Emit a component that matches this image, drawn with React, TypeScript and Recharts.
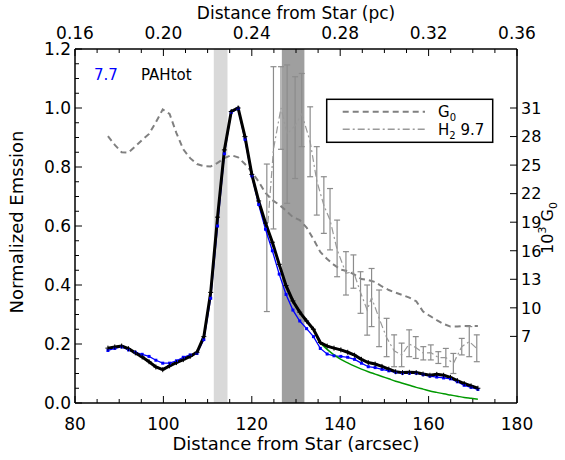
import React from 'react';
import { ComposedChart, Line, XAxis, YAxis, ReferenceArea, ErrorBar } from 'recharts';

// distance from star (arcsec), common grid of the profiles
const distance = [
  87.45, 89.0, 90.55, 92.1, 93.65, 95.2, 96.75, 98.3, 99.85, 101.4,
  102.95, 104.5, 106.05, 107.6, 109.15, 110.7, 112.25, 113.8, 115.35, 116.9,
  118.45, 120.0, 121.55, 123.1, 124.65, 126.2, 127.75, 129.3, 130.85, 132.4,
  133.95, 135.5, 137.05, 138.6, 140.15, 141.7, 143.25, 144.8, 146.35, 147.9,
  149.45, 151.0, 152.55, 154.1, 155.65, 157.2, 158.75, 160.3, 161.85, 163.4,
  164.95, 166.5, 168.05, 169.6, 171.15,
];

const pahTot = [
  0.186, 0.19, 0.193, 0.184, 0.17, 0.156, 0.14, 0.122, 0.113, 0.126,
  0.137, 0.147, 0.158, 0.172, 0.225, 0.375, 0.63, 0.858, 0.988, 1.0,
  0.903, 0.775, 0.685, 0.61, 0.545, 0.47, 0.398, 0.346, 0.308, 0.278,
  0.25, 0.205, 0.193, 0.186, 0.18, 0.172, 0.162, 0.148, 0.137, 0.132,
  0.124, 0.115, 0.106, 0.103, 0.104, 0.103, 0.098, 0.094, 0.097, 0.094,
  0.087, 0.076, 0.066, 0.058, 0.05,
];

const pah77 = [
  0.178, 0.185, 0.19, 0.18, 0.172, 0.165, 0.158, 0.145, 0.135, 0.135,
  0.143, 0.155, 0.163, 0.168, 0.215, 0.355, 0.6, 0.845, 0.985, 0.998,
  0.894, 0.77, 0.673, 0.589, 0.516, 0.437, 0.368, 0.315, 0.278, 0.252,
  0.225, 0.185, 0.166, 0.16, 0.158, 0.155, 0.148, 0.135, 0.123, 0.12,
  0.114, 0.109, 0.104, 0.101, 0.101, 0.101, 0.096, 0.091, 0.088, 0.085,
  0.082, 0.072, 0.06, 0.053, 0.046,
];

// G0 normalised to its peak (right axis: 10^3 G0, 31 <-> 1.0)
const g0Norm = [
  0.905, 0.875, 0.85, 0.849, 0.87, 0.892, 0.912, 0.952, 0.995, 0.98,
  0.915, 0.86, 0.83, 0.81, 0.803, 0.802, 0.814, 0.83, 0.84, 0.833,
  0.81, 0.784, 0.75, 0.712, 0.688, 0.672, 0.652, 0.63, 0.62, 0.595,
  0.555, 0.512, 0.488, 0.468, 0.452, 0.447, 0.435, 0.42, 0.417, 0.41,
  0.395, 0.383, 0.374, 0.366, 0.357, 0.345, 0.31, 0.295, 0.281, 0.268,
  0.259, 0.259, 0.261, 0.261, 0.261,
];

// green fit beyond the ridge
const fitDistance = [
  135.5, 137.05, 138.6, 140.15, 141.7, 143.25, 144.8, 146.35, 147.9, 149.45,
  151.0, 152.55, 154.1, 155.65, 157.2, 158.75, 160.3, 161.85, 163.4, 164.95,
  166.5, 168.05, 169.6, 171.15,
];
const fitValues = [
  0.203, 0.182, 0.163, 0.148, 0.136, 0.125, 0.115, 0.106, 0.098, 0.09,
  0.082, 0.074, 0.067, 0.06, 0.053, 0.047, 0.041, 0.036, 0.031, 0.027,
  0.023, 0.019, 0.016, 0.013,
];

// H2 9.7 with error bar ends
const h2Distance = [
  123.4, 124.9, 126.6, 128.0, 129.8, 131.3, 133.2, 134.7, 136.3, 137.7,
  139.3, 141.3, 143.0, 144.6, 146.1, 147.1, 148.8, 150.5, 152.2, 153.9,
  155.6, 157.1, 158.8, 160.5, 162.2, 163.9, 165.6, 167.5, 169.2, 170.9,
];
const h2Values = [
  0.56, 0.86, 1.0, 0.912, 0.94, 0.98, 0.886, 0.753, 0.67, 0.62,
  0.52, 0.44, 0.445, 0.375, 0.315, 0.357, 0.287, 0.222, 0.177, 0.163,
  0.2, 0.188, 0.169, 0.171, 0.154, 0.154, 0.134, 0.191, 0.208, 0.185,
];
const h2Low = [
  0.31, 0.59, 0.86, 0.677, 0.761, 0.869, 0.767, 0.637, 0.575, 0.519,
  0.428, 0.366, 0.389, 0.304, 0.23, 0.259, 0.191, 0.157, 0.123, 0.123,
  0.157, 0.151, 0.146, 0.146, 0.134, 0.123, 0.1, 0.163, 0.157, 0.14,
];
const h2High = [
  0.81, 1.14, 1.14, 1.146, 1.106, 1.117, 1.004, 0.869, 0.767, 0.727,
  0.62, 0.513, 0.502, 0.445, 0.4, 0.456, 0.383, 0.287, 0.231, 0.203,
  0.248, 0.225, 0.191, 0.197, 0.174, 0.185, 0.168, 0.219, 0.259, 0.231,
];

// shaded regions (arcsec)
const lightBand = [111.4, 114.5];
const darkBand = [126.8, 131.9];

const xTicks = [80, 85, 90, 95, 100, 105, 110, 115, 120, 125, 130, 135, 140, 145, 150, 155, 160, 165, 170, 175, 180];
const yTicks = [0, 0.05, 0.1, 0.15, 0.2, 0.25, 0.3, 0.35, 0.4, 0.45, 0.5, 0.55, 0.6, 0.65, 0.7, 0.75, 0.8, 0.85, 0.9, 0.95, 1.0, 1.05, 1.1, 1.15, 1.2];
const g0Ticks = [7, 10, 13, 16, 19, 22, 25, 28, 31];

const FONT = '"DejaVu Sans", Verdana, sans-serif';
const axisStyle = { stroke: '#000', strokeWidth: 1.5 };

const mainData = distance.map((x, i) => ({ x, pah: pahTot[i], pah77: pah77[i], g0: g0Norm[i] }));
const fitData = fitDistance.map((x, i) => ({ x, fit: fitValues[i] }));
const h2Data = h2Distance.map((x, i) => ({
  x,
  h2: h2Values[i],
  err: [h2Values[i] - h2Low[i], h2High[i] - h2Values[i]],
}));

const isMajor = (v: number, step: number) => Math.abs(v / step - Math.round(v / step)) < 1e-6;

const BottomTick = (props: any) => {
  const { x, y, payload } = props;
  const major = isMajor(payload.value, 20);
  return (
    <g>
      <line x1={x} y1={y} x2={x} y2={y - (major ? 7 : 4)} stroke="#000" />
      {major && (
        <text x={x} y={y + 27} textAnchor="middle" fontSize={17} fontFamily={FONT} fill="#000">
          {payload.value}
        </text>
      )}
    </g>
  );
};

const TopTick = (props: any) => {
  const { x, y, payload } = props;
  const major = isMajor(payload.value, 20);
  return (
    <g>
      <line x1={x} y1={y} x2={x} y2={y + (major ? 7 : 4)} stroke="#000" />
      {major && (
        <text x={x} y={y - 10} textAnchor="middle" fontSize={17} fontFamily={FONT} fill="#000">
          {(0.16 + (payload.value - 80) * 0.002).toFixed(2)}
        </text>
      )}
    </g>
  );
};

const LeftTick = (props: any) => {
  const { x, y, payload } = props;
  const major = isMajor(payload.value, 0.2);
  return (
    <g>
      <line x1={x} y1={y} x2={x + (major ? 7 : 4)} y2={y} stroke="#000" />
      {major && (
        <text x={x - 4} y={y} dy="0.36em" textAnchor="end" fontSize={17} fontFamily={FONT} fill="#000">
          {payload.value.toFixed(1)}
        </text>
      )}
    </g>
  );
};

const RightTick = (props: any) => {
  const { x, y, payload } = props;
  return (
    <g>
      <line x1={x} y1={y} x2={x - 7} y2={y} stroke="#000" />
      <text x={x + 4} y={y} dy="0.36em" textAnchor="start" fontSize={16} fontFamily={FONT} fill="#000">
        {payload.value}
      </text>
    </g>
  );
};

const CrossDot = (p: any) => {
  const { cx, cy, index } = p;
  if (cx == null || cy == null) return <g key={index} />;
  return (
    <path key={index} d={`M${cx - 2.5},${cy}H${cx + 2.5}M${cx},${cy - 2.5}V${cy + 2.5}`} stroke="#000" strokeWidth={1} />
  );
};

const SquareDot = (p: any) => {
  const { cx, cy, index } = p;
  if (cx == null || cy == null) return <g key={index} />;
  return <rect key={index} x={cx - 1.5} y={cy - 1.5} width={3} height={3} fill="#0000ff" />;
};

const App: React.FC = () => {
  return (
    <div style={{ position: 'absolute', left: 0, top: 0, width: 565, height: 460, background: '#fff' }}>
      <ComposedChart
        width={565}
        height={460}
        data={mainData}
        margin={{ top: 19, right: 8, bottom: 17, left: 25 }}
      >
        <XAxis
          xAxisId="bottom"
          dataKey="x"
          type="number"
          domain={[80, 180]}
          ticks={xTicks}
          interval={0}
          allowDataOverflow
          tickSize={0}
          tickMargin={0}
          tickLine={false}
          axisLine={axisStyle}
          tick={BottomTick}
          height={40}
        />
        <XAxis
          xAxisId="top"
          orientation="top"
          dataKey="x"
          type="number"
          domain={[80, 180]}
          ticks={xTicks}
          interval={0}
          allowDataOverflow
          tickSize={0}
          tickMargin={0}
          tickLine={false}
          axisLine={axisStyle}
          tick={TopTick}
          height={30}
        />
        <YAxis
          yAxisId="left"
          type="number"
          domain={[0, 1.2]}
          ticks={yTicks}
          interval={0}
          allowDataOverflow
          tickSize={0}
          tickMargin={0}
          tickLine={false}
          axisLine={axisStyle}
          tick={LeftTick}
          width={50}
        />
        <YAxis
          yAxisId="right"
          orientation="right"
          type="number"
          domain={[0, 37.2]}
          ticks={g0Ticks}
          interval={0}
          allowDataOverflow
          tickSize={0}
          tickMargin={0}
          tickLine={false}
          axisLine={axisStyle}
          tick={RightTick}
          width={40}
        />
        <ReferenceArea xAxisId="bottom" yAxisId="left" x1={lightBand[0]} x2={lightBand[1]} y1={0} y2={1.2} fill="#d9d9d9" fillOpacity={1} stroke="none" />
        <ReferenceArea xAxisId="bottom" yAxisId="left" x1={darkBand[0]} x2={darkBand[1]} y1={0} y2={1.2} fill="#9f9f9f" fillOpacity={1} stroke="none" />
        <Line
          xAxisId="bottom"
          yAxisId="left"
          dataKey="g0"
          type="linear"
          stroke="#808080"
          strokeWidth={2}
          strokeDasharray="6 4"
          dot={false}
          isAnimationActive={false}
        />
        <Line
          xAxisId="bottom"
          yAxisId="left"
          data={h2Data}
          dataKey="h2"
          type="linear"
          stroke="#999"
          strokeWidth={1.2}
          strokeDasharray="7 3 2 3"
          dot={false}
          isAnimationActive={false}
        >
          <ErrorBar dataKey="err" direction="y" width={3} stroke="#8c8c8c" strokeWidth={1.2} />
        </Line>
        <Line
          xAxisId="bottom"
          yAxisId="left"
          dataKey="pah77"
          type="linear"
          stroke="#0000ff"
          strokeWidth={1.3}
          dot={SquareDot}
          isAnimationActive={false}
        />
        <Line
          xAxisId="bottom"
          yAxisId="left"
          data={fitData}
          dataKey="fit"
          type="monotone"
          stroke="#009900"
          strokeWidth={1.5}
          dot={false}
          isAnimationActive={false}
        />
        <Line
          xAxisId="bottom"
          yAxisId="left"
          dataKey="pah"
          type="linear"
          stroke="#000"
          strokeWidth={3}
          dot={CrossDot}
          isAnimationActive={false}
        />
      </ComposedChart>
      <svg
        width={565}
        height={460}
        style={{ position: 'absolute', left: 0, top: 0, pointerEvents: 'none' }}
        fontFamily={FONT}
      >
        <text x={296} y={19} textAnchor="middle" fontSize={17}>Distance from Star (pc)</text>
        <text x={296} y={450} textAnchor="middle" fontSize={18}>Distance from Star (arcsec)</text>
        <text x={23} y={222} textAnchor="middle" fontSize={18} transform="rotate(-90, 23, 222)">
          Normalized Emssion
        </text>
        <text x={553} y={228} textAnchor="middle" fontSize={16} transform="rotate(-90, 553, 228)">
          10<tspan dy={-7} fontSize={11}>3</tspan>
          <tspan dy={7}> G</tspan>
          <tspan dy={4} fontSize={11}>0</tspan>
        </text>
        <text x={94} y={80} fontSize={15} fill="#0000ff">7.7</text>
        <text x={141} y={80} fontSize={15} fill="#000">PAHtot</text>
        <rect x={326.7} y={99.3} width={166} height={43} fill="#fff" stroke="#000" strokeWidth={1.5} />
        <line x1={342.7} y1={111.7} x2={425} y2={111.7} stroke="#808080" strokeWidth={2} strokeDasharray="6 4" />
        <line x1={342.7} y1={129.3} x2={425} y2={129.3} stroke="#999" strokeWidth={1.5} strokeDasharray="7 3 2 3" />
        <text x={438} y={117} fontSize={15}>
          G<tspan dy={4} fontSize={10}>0</tspan>
        </text>
        <text x={438} y={135} fontSize={15}>
          H<tspan dy={4} fontSize={10}>2</tspan>
          <tspan dy={-4}> 9.7</tspan>
        </text>
      </svg>
    </div>
  );
};

export default App;
